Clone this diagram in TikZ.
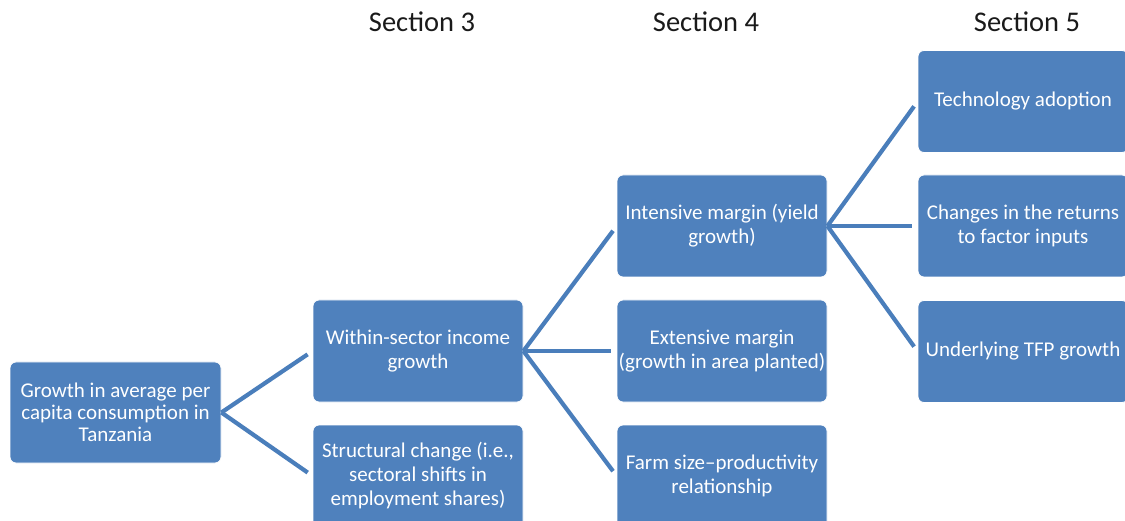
\documentclass[tikz,border=0pt]{standalone}
\usepackage{fontspec}
\setmainfont{Carlito}
\definecolor{boxblue}{HTML}{4F81BD}
\definecolor{lineblue}{HTML}{4A7EBB}
\definecolor{headtext}{HTML}{1A1A1A}
\begin{document}
\begin{tikzpicture}[x=1pt,y=-1pt,
  box/.style={draw=white, line width=0.8pt, fill=boxblue, rounded corners=6pt,
    minimum width=210pt, minimum height=102pt, inner sep=1pt, align=center,
    text=white, font=\fontsize{21}{24}\selectfont},
  head/.style={text=headtext, font=\fontsize{28.5}{32}\selectfont},
  link/.style={draw=lineblue, line width=4.2pt, shorten >=6pt}]
\clip (0,0) rectangle (1125,521);
\fill[white] (0,0) rectangle (1125,521);
% section headings
\node[head] (s3) at (422,22) {Section 3};
\node[head] (s4) at (706,22) {Section 4};
\node[head] (s5) at (1027,22) {Section 5};
% boxes
\node[box, minimum width=211pt, minimum height=101pt, font=\fontsize{21}{22}\selectfont] (root) at (115.5,412.5) {Growth in average per\\capita consumption in\\Tanzania};
\node[box] (within) at (418,351) {Within-sector income\\growth};
\node[box] (struct) at (418,476) {Structural change (i.e.,\\sectoral shifts in\\employment shares)};
\node[box] (intens) at (722,226) {Intensive margin (yield\\growth)};
\node[box] (extens) at (722,351) {Extensive margin\\(growth in area planted)};
\node[box] (farm) at (722,476) {Farm size--productivity\\relationship};
\node[box] (tech) at (1023,101.5) {Technology adoption};
\node[box] (change) at (1023,226) {Changes in the returns\\to factor inputs};
\node[box] (tfp) at (1023,351.5) {Underlying TFP growth};
% connectors
\draw[link] (root.east) -- (within.west);
\draw[link] (root.east) -- (struct.west);
\draw[link] (within.east) -- (intens.west);
\draw[link] (within.east) -- (extens.west);
\draw[link] (within.east) -- (farm.west);
\draw[link] (intens.east) -- (tech.west);
\draw[link] (intens.east) -- (change.west);
\draw[link] (intens.east) -- (tfp.west);
\end{tikzpicture}
\end{document}
